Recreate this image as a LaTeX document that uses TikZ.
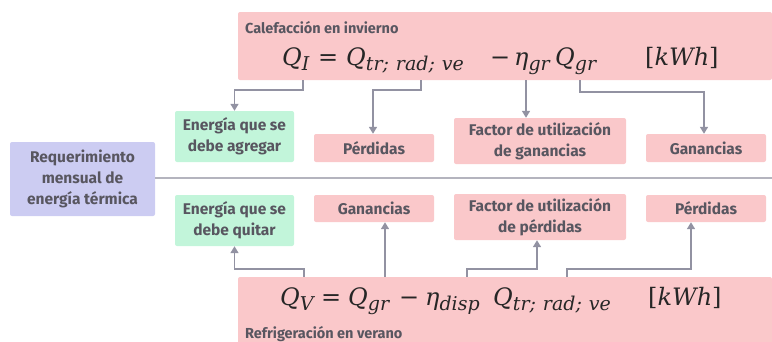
\documentclass[tikz,border=0pt]{standalone}
\usepackage{fontspec}
\setsansfont{Fira Sans}
\newfontfamily\eqfont{DejaVu Serif}
\usetikzlibrary{arrows.meta,positioning}

\definecolor{pinkbox}{RGB}{250,200,202}
\definecolor{greenbox}{RGB}{194,245,218}
\definecolor{lilabox}{RGB}{204,204,242}
\definecolor{txtgray}{RGB}{88,86,96}
\definecolor{arrgray}{RGB}{146,146,162}
\definecolor{rulegray}{RGB}{180,180,190}

% subscript of the big formulas
\newcommand\eqsub[1]{\raisebox{-5pt}{\fontsize{19}{19}\selectfont\itshape #1}}
\newcommand\sep{;\hspace{7pt}}

\tikzset{
  lbl/.style={rounded corners=2pt, inner sep=0pt, align=center, text=txtgray,
    font=\sffamily\bfseries\fontsize{15.5}{21}\selectfont},
  redbox/.style={lbl, fill=pinkbox},
  grnbox/.style={lbl, fill=greenbox, minimum width=119, minimum height=51},
  eqpart/.style={inner sep=0pt, anchor=base west, text=black!85,
    font=\eqfont\fontsize{24}{28}\selectfont},
  boxtitle/.style={anchor=base west, inner sep=0pt, text=txtgray,
    font=\sffamily\bfseries\fontsize{14.5}{17}\selectfont},
  arr/.style={draw=arrgray, line width=1.6pt, -{Triangle[width=8pt,length=7pt]}},
}

\begin{document}
\begin{tikzpicture}[x=1pt,y=-1pt]
    \useasboundingbox (0,0) rectangle (772,341);

    % banners with the two balances
    \node[redbox, minimum width=534, minimum height=68] (calbox) at (505,46) {};
    \node[redbox, minimum width=534, minimum height=74] (refbox) at (505,314) {};
    \node[boxtitle] (caltit) at (245,33) {Calefacción en invierno};
    \node[boxtitle] (reftit) at (245,338) {Refrigeración en verano};

    % heating: Q_I = Q_tr;rad;ve - eta_gr Q_gr
    \node[eqpart] (qi)   at (282,65) {\itshape Q\eqsub{I}};
    \node[eqpart] (eq1)  at (318,65) {=};
    \node[eqpart] (qtr)  at (346,65) {\itshape Q\eqsub{tr\sep rad\sep ve}};
    \node[eqpart] (mi1)  at (490,65) {−};
    \node[eqpart] (eta)  at (514,65) {\itshape η\eqsub{gr}};
    \node[eqpart] (qgr)  at (555,65) {\itshape Q\eqsub{gr}};
    \node[eqpart] (kwh1) at (645,65) {[\textit{kWh}]};

    % cooling: Q_V = Q_gr - eta_disp Q_tr;rad;ve
    \node[eqpart] (qv)   at (280,305) {\itshape Q\eqsub{V}};
    \node[eqpart] (eq2)  at (321,305) {=};
    \node[eqpart] (qgr2) at (348,305) {\itshape Q\eqsub{gr}};
    \node[eqpart] (mi2)  at (399,305) {−};
    \node[eqpart] (eta2) at (425,305) {\itshape η\eqsub{disp}};
    \node[eqpart] (qtr2) at (493,305) {\itshape Q\eqsub{tr\sep rad\sep ve}};
    \node[eqpart] (kwh2) at (648,305) {[\textit{kWh}]};

    % left block and divider
    \node[lbl, fill=lilabox, minimum width=145, minimum height=74] (req) at (82.5,179)
      {Requerimiento\\mensual de\\energía térmica};
    \coordinate (edge) at (772,178);
    \draw[rulegray, line width=1.5pt] (req.east |- edge) -- (edge);

    % upper row
    \node[grnbox] (agr) at (234.5,136.5) {Energía que se\\debe agregar};
    \node[redbox, minimum width=120, minimum height=28] (perd1) at (374,148) {Pérdidas};
    \node[redbox, minimum width=172, minimum height=46] (fgan) at (540,141) {Factor de utilización\\de ganancias};
    \node[redbox, minimum width=120, minimum height=28] (gan1) at (706,148) {Ganancias};

    % lower row
    \node[grnbox] (qui) at (234.5,220.5) {Energía que se\\debe quitar};
    \node[redbox, minimum width=120, minimum height=27] (gan2) at (374,208.5) {Ganancias};
    \node[redbox, minimum width=172, minimum height=46] (fper) at (540,217) {Factor de utilización\\de pérdidas};
    \node[redbox, minimum width=120, minimum height=27] (perd2) at (706,208.5) {Pérdidas};

    % connectors heating
    \draw[arr] ([xshift=21pt]qi.west |- calbox.south) -- ++(0,10) -| (agr.north);
    \draw[arr] ([xshift=75pt]qtr.west |- calbox.south) -- ++(0,10) -| ([xshift=-1pt]perd1.north);
    \draw[arr] ([xshift=12pt]eta.west |- calbox.south) -- ([xshift=12pt]eta.west |- fgan.north);
    \draw[arr] ([xshift=25pt]qgr.west |- calbox.south) -- ++(0,12) -| ([xshift=-2pt]gan1.north);

    % connectors cooling
    \draw[arr] ([xshift=24pt]qv.west |- refbox.north) -- ++(0,-8) -| (qui.south);
    \draw[arr] ([xshift=37pt]qgr2.west |- refbox.north) -- ([xshift=37pt]qgr2.west |- gan2.south);
    \draw[arr] ([xshift=42pt]eta2.west |- refbox.north) -- ++(0,-8) -| ([xshift=-3pt]fper.south);
    \draw[arr] ([xshift=74pt]qtr2.west |- refbox.north) -- ++(0,-8) -| ([xshift=-15pt]perd2.south);
\end{tikzpicture}
\end{document}
